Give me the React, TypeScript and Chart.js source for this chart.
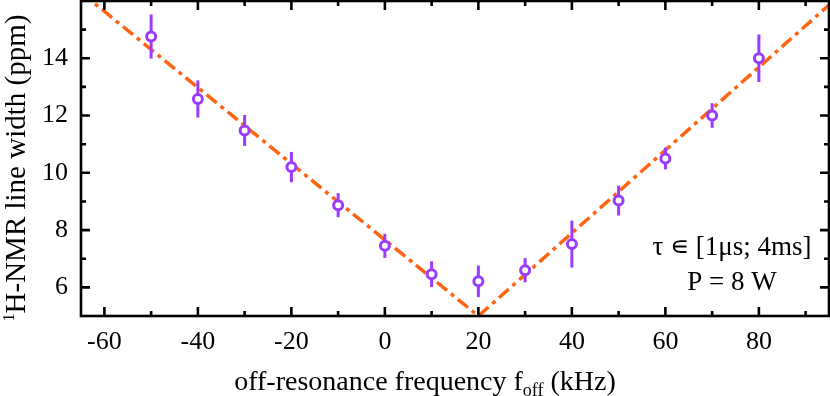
import React, { useEffect, useRef } from "react";
import { Chart, registerables } from "chart.js";
Chart.register(...registerables);

const FREQ_KHZ = [-50, -40, -30, -20, -10, 0, 10, 20, 30, 40, 50, 60, 70, 80];
const LINE_WIDTH_PPM = [14.76, 12.58, 11.48, 10.2, 8.87, 7.45, 6.46, 6.21, 6.6, 7.51, 9.03, 10.5, 12.0, 14.0];
const ERR_PPM = [0.77, 0.65, 0.54, 0.53, 0.42, 0.42, 0.45, 0.55, 0.42, 0.82, 0.52, 0.38, 0.43, 0.83];
const FIT_X = [-65, 20, 95];
const FIT_Y = [16.3, 5, 15.86];
const X_TICKS = [-60, -40, -20, 0, 20, 40, 60, 80];
const X_MINOR = [-50, -30, -10, 10, 30, 50, 70, 90];
const Y_TICKS = [6, 8, 10, 12, 14];
const Y_MINOR = [7, 9, 11, 13, 15];

const PURPLE = "#9a3cff";
const ORANGE = "#ff6412";
const FONT = "'Liberation Serif', 'Times New Roman', serif";

const overlay = {
  id: "overlay",
  beforeDatasetDraw(chart: any, args: any) {
    if (args.index !== 0) return;
    const { ctx, scales } = chart;
    const x = scales.x, y = scales.y;
    ctx.save();
    ctx.strokeStyle = PURPLE;
    ctx.lineWidth = 3;
    FREQ_KHZ.forEach((f, i) => {
      const px = x.getPixelForValue(f);
      ctx.beginPath();
      ctx.moveTo(px, y.getPixelForValue(LINE_WIDTH_PPM[i] + ERR_PPM[i]));
      ctx.lineTo(px, y.getPixelForValue(LINE_WIDTH_PPM[i] - ERR_PPM[i]));
      ctx.stroke();
    });
    ctx.restore();
  },
  afterDraw(chart: any) {
    const { ctx, chartArea, scales } = chart;
    const x = scales.x, y = scales.y;
    const { left, right, top, bottom } = chartArea;
    ctx.save();
    ctx.strokeStyle = "#000";
    ctx.lineWidth = 2.6;
    ctx.strokeRect(left, top, right - left, bottom - top);
    const MAJ = 9, MIN = 5;
    ctx.lineWidth = 2.6;
    const vt = (vals: number[], len: number) => {
      vals.forEach((v) => {
        const px = x.getPixelForValue(v);
        ctx.beginPath();
        ctx.moveTo(px, bottom);
        ctx.lineTo(px, bottom - len);
        ctx.moveTo(px, top);
        ctx.lineTo(px, top + len);
        ctx.stroke();
      });
    };
    const ht = (vals: number[], len: number) => {
      vals.forEach((v) => {
        const py = y.getPixelForValue(v);
        ctx.beginPath();
        ctx.moveTo(left, py);
        ctx.lineTo(left + len, py);
        ctx.moveTo(right, py);
        ctx.lineTo(right - len, py);
        ctx.stroke();
      });
    };
    vt(X_TICKS, MAJ);
    vt(X_MINOR, MIN);
    ht(Y_TICKS, MAJ);
    ht(Y_MINOR, MIN);

    ctx.fillStyle = "#000";
    ctx.textBaseline = "alphabetic";
    // x title
    const big = `28px ${FONT}`;
    const small = `18px ${FONT}`;
    const p1 = "off-resonance frequency f";
    const p2 = "off";
    const p3 = " (kHz)";
    ctx.font = big;
    const w1 = ctx.measureText(p1).width;
    const w3 = ctx.measureText(p3).width;
    ctx.font = small;
    const w2 = ctx.measureText(p2).width;
    const total = w1 + w2 + w3;
    const sx = 425 - total / 2;
    const by = 390;
    ctx.textAlign = "left";
    ctx.font = big;
    ctx.fillText(p1, sx, by);
    ctx.font = small;
    ctx.fillText(p2, sx + w1, by + 6);
    ctx.font = big;
    ctx.fillText(p3, sx + w1 + w2, by);

    // y title
    ctx.save();
    ctx.translate(25, 168);
    ctx.rotate(-Math.PI / 2);
    const s1 = "1";
    const s2 = "H-NMR line width (ppm)";
    const yBig = `29px ${FONT}`;
    ctx.font = `16px ${FONT}`;
    const ws1 = ctx.measureText(s1).width;
    ctx.font = yBig;
    const ws2 = ctx.measureText(s2).width;
    const st = -(ws1 + ws2) / 2;
    ctx.font = `16px ${FONT}`;
    ctx.fillText(s1, st, -11);
    ctx.font = yBig;
    ctx.fillText(s2, st + ws1, 0);
    ctx.restore();

    // annotations
    ctx.textAlign = "center";
    ctx.font = `27px ${FONT}`;
    ctx.fillText("τ ∊ [1μs; 4ms]", 732, 255);
    ctx.fillText("P = 8 W", 732, 290);
    ctx.restore();
  },
};

export default function App() {
  const ref = useRef<HTMLCanvasElement>(null);
  useEffect(() => {
    document.body.style.margin = "0";
    const canvas = ref.current!;
    const chart = new Chart(canvas, {
      type: "scatter",
      data: {
        datasets: [
          {
            type: "scatter",
            data: FREQ_KHZ.map((f, i) => ({ x: f, y: LINE_WIDTH_PPM[i] })),
            pointRadius: 4.5,
            pointBorderWidth: 3,
            pointBackgroundColor: "#ffffff",
            pointBorderColor: PURPLE,
            showLine: false,
          } as any,
          {
            type: "line",
            data: FIT_X.map((f, i) => ({ x: f, y: FIT_Y[i] })),
            borderColor: ORANGE,
            borderWidth: 3.5,
            borderDash: [13, 5, 4, 5],
            borderCapStyle: "butt",
            pointRadius: 0,
            tension: 0,
            fill: false,
          } as any,
        ],
      },
      options: {
        responsive: false,
        animation: false,
        layout: { autoPadding: false, padding: { top: 1, right: 1, left: 0, bottom: 0 } },
        plugins: { legend: { display: false }, tooltip: { enabled: false } },
        scales: {
          x: {
            type: "linear",
            min: -65,
            max: 95,
            afterBuildTicks: (s: any) => {
              s.ticks = X_TICKS.map((v) => ({ value: v }));
            },
            afterFit: (s: any) => {
              s.height = 80;
              s.paddingLeft = 0;
              s.paddingRight = 0;
              s.paddingTop = 0;
              s.paddingBottom = 0;
            },
            grid: { display: false, drawTicks: false },
            border: { display: false },
            ticks: {
              color: "#000",
              font: { family: FONT, size: 26 },
              padding: 11,
              maxRotation: 0,
              autoSkip: false,
              callback: (v: any) => String(v),
            },
          },
          y: {
            type: "linear",
            min: 5,
            max: 16,
            afterBuildTicks: (s: any) => {
              s.ticks = Y_TICKS.map((v) => ({ value: v }));
            },
            afterFit: (s: any) => {
              s.width = 81;
              s.paddingLeft = 0;
              s.paddingRight = 0;
              s.paddingTop = 0;
              s.paddingBottom = 0;
            },
            grid: { display: false, drawTicks: false },
            border: { display: false },
            ticks: {
              color: "#000",
              font: { family: FONT, size: 26 },
              padding: 13,
              autoSkip: false,
              callback: (v: any) => String(v),
            },
          },
        },
      },
      plugins: [overlay],
    });
    return () => chart.destroy();
  }, []);
  return (
    <div style={{ width: 830, height: 396 }}>
      <canvas ref={ref} width={830} height={396} />
    </div>
  );
}
